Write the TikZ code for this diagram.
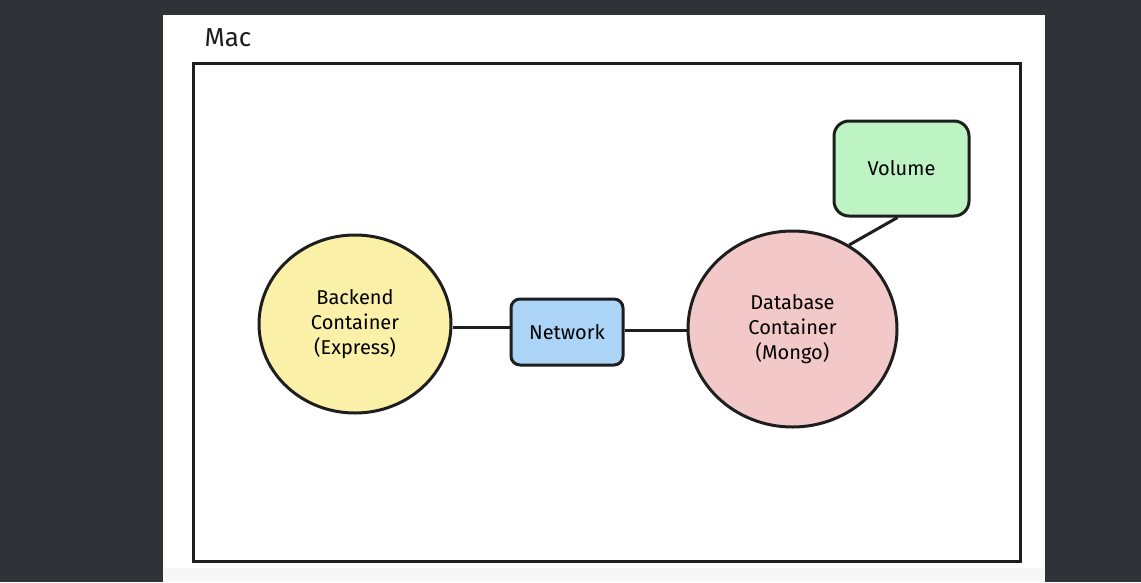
\documentclass[tikz,border=0pt]{standalone}
\usepackage{fontspec}
\setmainfont{Fira Sans}
\usetikzlibrary{shapes.geometric}
\definecolor{backdark}{RGB}{47,50,54}
\definecolor{inkblack}{RGB}{30,30,30}
\definecolor{backendyellow}{RGB}{250,240,168}
\definecolor{networkblue}{RGB}{172,212,246}
\definecolor{dbpink}{RGB}{243,200,200}
\definecolor{volumegreen}{RGB}{190,244,196}
\tikzset{
  container/.style={ellipse,draw=inkblack,line width=3pt,inner sep=0pt,align=center,font=\fontsize{20}{25}\selectfont},
  smallbox/.style={rectangle,draw=inkblack,line width=3pt,inner sep=0pt,align=center,font=\fontsize{20}{25}\selectfont},
  link/.style={draw=inkblack,line width=3pt}
}
\begin{document}
\begin{tikzpicture}[x=1pt,y=-1pt]

% to fix the page and draw the backgrounds
\useasboundingbox [fill=backdark] (0,0) rectangle (1141,582);
\fill [white] (163,15) rectangle (1045,568);
\fill [gray!6] (163,568) rectangle (1045,582);

% to draw the host frame
\node [anchor=west,font=\fontsize{26}{30}\selectfont,text=inkblack] (maclabel) at (201,38) {Mac};
\draw [draw=inkblack,line width=3pt] (193,63) rectangle (1020,561);

% to draw the containers
\node [container,fill=backendyellow,minimum width=192pt,minimum height=178pt] (backend) at (355,324) {Backend\\Container\\(Express)};
\node [container,fill=dbpink,minimum width=209pt,minimum height=196pt] (database) at (792.5,329) {Database\\Container\\(Mongo)};

% to draw network and volume
\node [smallbox,fill=networkblue,rounded corners=9pt,minimum width=112pt,minimum height=66pt] (network) at (567,332) {Network};
\node [smallbox,fill=volumegreen,rounded corners=15pt,minimum width=135pt,minimum height=95pt] (volume) at (901.5,168.5) {Volume};

% to draw links
\draw [link] ([yshift=5pt]network.west) -- ([yshift=5pt]network.west -| backend.east);
\draw [link] ([yshift=2pt]network.east) -- ([yshift=2pt]network.east -| database.west);
\draw [link] ([xshift=-4pt]volume.south) -- (database.56);

\end{tikzpicture}
\end{document}
